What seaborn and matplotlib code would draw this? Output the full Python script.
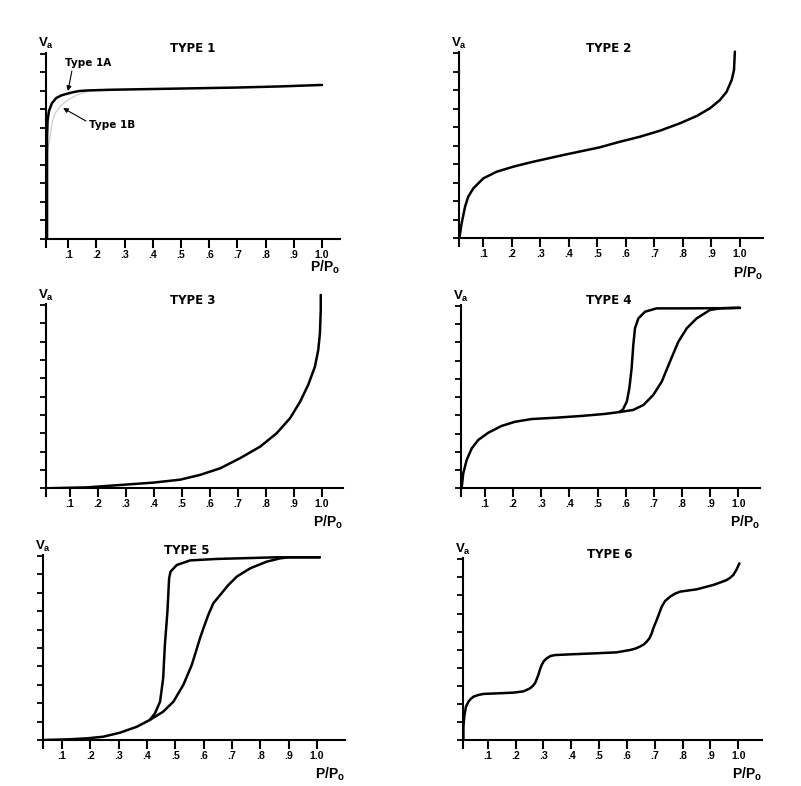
import matplotlib
matplotlib.use("Agg")
import matplotlib.pyplot as plt
import matplotlib.transforms as mtransforms
import seaborn as sns

# ---- isotherm data: relative pressure P/P0 and adsorbed volume (axis tick units) ----
TYPE1A_X = [0.025, 0.025, 0.027, 0.032, 0.042, 0.057, 0.075, 0.092, 0.115, 0.138, 0.165,
            0.25, 0.40, 0.55, 0.70, 0.85, 1.00]
TYPE1A_Y = [0.0, 5.5, 6.4, 6.9, 7.3, 7.59, 7.73, 7.81, 7.90, 7.97, 8.00,
            8.04, 8.08, 8.12, 8.16, 8.22, 8.30]
TYPE1B_X = [0.025, 0.030, 0.036, 0.043, 0.055, 0.075, 0.100, 0.130, 0.170]
TYPE1B_Y = [4.6, 5.0, 5.5, 6.3, 6.8, 7.2, 7.5, 7.75, 7.95]

TYPE2_X = [0.016, 0.024, 0.036, 0.047, 0.065, 0.100, 0.147, 0.205, 0.264, 0.380, 0.509,
           0.579, 0.649, 0.720, 0.790, 0.848, 0.895, 0.930, 0.953, 0.971, 0.979, 0.982]
TYPE2_Y = [0.0, 0.81, 1.71, 2.25, 2.70, 3.24, 3.60, 3.87, 4.10, 4.50, 4.92,
           5.22, 5.49, 5.82, 6.22, 6.61, 7.03, 7.48, 7.92, 8.56, 9.10, 10.09]

TYPE3_X = [0.017, 0.160, 0.279, 0.398, 0.494, 0.565, 0.637, 0.708, 0.780, 0.839, 0.887,
           0.923, 0.952, 0.976, 0.988, 0.994, 0.997, 0.997]
TYPE3_Y = [0.0, 0.05, 0.18, 0.31, 0.47, 0.73, 1.09, 1.64, 2.27, 3.00, 3.82,
           4.72, 5.64, 6.63, 7.54, 8.46, 9.73, 10.55]

TYPE4_ADS_X = [0.017, 0.023, 0.035, 0.053, 0.076, 0.112, 0.159, 0.207, 0.266, 0.349, 0.444,
               0.526, 0.586, 0.627, 0.663, 0.698, 0.728, 0.757, 0.787, 0.817, 0.852,
               0.899, 0.935, 1.006]
TYPE4_ADS_Y = [0.0, 0.82, 1.55, 2.19, 2.65, 3.05, 3.42, 3.65, 3.80, 3.87, 3.97,
               4.08, 4.20, 4.30, 4.57, 5.12, 5.85, 6.94, 8.04, 8.78, 9.32,
               9.78, 9.87, 9.90]
TYPE4_DES_X = [1.006, 0.935, 0.800, 0.710, 0.669, 0.645, 0.633, 0.627, 0.621, 0.613,
               0.604, 0.590, 0.578]
TYPE4_DES_Y = [9.90, 9.88, 9.87, 9.87, 9.69, 9.32, 8.78, 7.86, 6.58, 5.49,
               4.76, 4.32, 4.19]

TYPE5_ADS_X = [0.040, 0.128, 0.187, 0.246, 0.305, 0.364, 0.410, 0.457, 0.493, 0.528, 0.558,
               0.587, 0.599, 0.616, 0.634, 0.658, 0.687, 0.717, 0.764, 0.822, 0.869, 0.900,
               1.010]
TYPE5_ADS_Y = [0.0, 0.04, 0.09, 0.18, 0.40, 0.72, 1.09, 1.54, 2.08, 2.99, 4.08,
               5.53, 6.07, 6.79, 7.43, 7.88, 8.42, 8.88, 9.33, 9.69, 9.87, 9.93,
               9.93]
TYPE5_DES_X = [1.010, 0.858, 0.646, 0.552, 0.505, 0.483, 0.478, 0.472, 0.463, 0.457,
               0.446, 0.428, 0.410]
TYPE5_DES_Y = [9.93, 9.93, 9.84, 9.76, 9.51, 9.15, 8.79, 6.97, 5.16, 3.35,
               2.08, 1.45, 1.09]

TYPE6_X = [0.013, 0.013, 0.016, 0.022, 0.031, 0.039, 0.049, 0.0665, 0.085, 0.132, 0.192,
           0.228, 0.240, 0.252, 0.262, 0.270, 0.276, 0.282, 0.288, 0.294, 0.302, 0.312,
           0.326, 0.342, 0.396, 0.491, 0.563, 0.611, 0.629, 0.647, 0.661, 0.671, 0.681,
           0.689, 0.697, 0.707, 0.716, 0.725, 0.737, 0.755, 0.773, 0.791, 0.851, 0.910,
           0.934, 0.958, 0.970, 0.982, 0.994, 1.004]
TYPE6_Y = [0.0, 0.74, 1.29, 1.84, 2.12, 2.27, 2.40, 2.49, 2.55, 2.58, 2.62,
           2.69, 2.77, 2.86, 2.99, 3.14, 3.36, 3.60, 3.91, 4.15, 4.37, 4.52,
           4.65, 4.70, 4.74, 4.80, 4.85, 4.98, 5.05, 5.17, 5.29, 5.44, 5.63,
           5.90, 6.27, 6.64, 7.01, 7.38, 7.69, 7.93, 8.10, 8.21, 8.34, 8.58,
           8.71, 8.85, 8.97, 9.13, 9.44, 9.78]

TITLES = ["TYPE 1", "TYPE 2", "TYPE 3", "TYPE 4", "TYPE 5", "TYPE 6"]
X_TICKS = [0.1, 0.2, 0.3, 0.4, 0.5, 0.6, 0.7, 0.8, 0.9, 1.0]
X_TICK_LABELS = [".1", ".2", ".3", ".4", ".5", ".6", ".7", ".8", ".9", "1.0"]
Y_TICKS = list(range(11))

CURVES = {
    "TYPE 1": [(TYPE1A_X, TYPE1A_Y)],
    "TYPE 2": [(TYPE2_X, TYPE2_Y)],
    "TYPE 3": [(TYPE3_X, TYPE3_Y)],
    "TYPE 4": [(TYPE4_ADS_X, TYPE4_ADS_Y), (TYPE4_DES_X, TYPE4_DES_Y)],
    "TYPE 5": [(TYPE5_ADS_X, TYPE5_ADS_Y), (TYPE5_DES_X, TYPE5_DES_Y)],
    "TYPE 6": [(TYPE6_X, TYPE6_Y)],
}

# ---- layout (pixels): y-axis x, x-data origin, px per unit P/P0, x-axis y, px per V unit, axis end ----
W, H = 801, 786
YTOP = 11.0
PANELS = [
    dict(yaxis=46.0, zero=40.0, sx=282.0, base=238.5, sy=18.5, right=340.0, lab=29),
    dict(yaxis=459.0, zero=454.8, sx=285.2, base=238.3, sy=18.5, right=763.0, lab=35),
    dict(yaxis=46.0, zero=42.0, sx=279.6, base=488.3, sy=18.33, right=343.0, lab=34),
    dict(yaxis=461.0, zero=456.8, sx=281.5, base=488.3, sy=18.23, right=760.0, lab=34),
    dict(yaxis=43.0, zero=33.7, sx=283.3, base=740.0, sy=18.4, right=345.0, lab=34),
    dict(yaxis=463.3, zero=459.8, sx=278.5, base=740.0, sy=18.07, right=762.0, lab=34),
]

sns.set_theme(style="ticks")
plt.rcParams["font.family"] = ["Liberation Sans", "DejaVu Sans"]
plt.rcParams["font.weight"] = "bold"

fig = plt.figure(figsize=(W / 100, H / 100), dpi=100)
fig.patch.set_facecolor("white")

LINE_KW = dict(color="black", linewidth=1.8, solid_joinstyle="round", solid_capstyle="round")

for title, g in zip(TITLES, PANELS):
    ax = fig.add_axes([g["yaxis"] / W, (H - g["base"]) / H,
                       (g["right"] - g["yaxis"]) / W, YTOP * g["sy"] / H])
    ax.set_facecolor("none")
    xmin = (g["yaxis"] - g["zero"]) / g["sx"]
    xmax = (g["right"] - g["zero"]) / g["sx"]

    if title == "TYPE 1":
        sns.lineplot(x=TYPE1B_X, y=TYPE1B_Y, sort=False, estimator=None, ax=ax,
                     color="#cdcdcd", linewidth=0.9)
    for xs, ys in CURVES[title]:
        sns.lineplot(x=xs, y=ys, sort=False, estimator=None, ax=ax, **LINE_KW)

    ax.set_xlim(xmin, xmax)
    ax.set_ylim(0, YTOP)
    ax.set_xlabel("")
    ax.set_ylabel("")

    for side in ("top", "right"):
        ax.spines[side].set_visible(False)
    for side in ("left", "bottom"):
        ax.spines[side].set_linewidth(1.5)
        ax.spines[side].set_color("black")
    ax.spines["left"].set_bounds(0, 10.05)

    ax.set_xticks([xmin] + X_TICKS)
    ax.set_xticklabels([""] + X_TICK_LABELS)
    ax.set_yticks(Y_TICKS)
    ax.set_yticklabels([])
    ax.tick_params(axis="x", direction="out", length=6.5, width=1.5, pad=1.5,
                   labelsize=7.5, colors="black")
    ax.tick_params(axis="y", direction="out", length=4.5, width=1.3, colors="black")
    for lbl in ax.get_xticklabels():
        lbl.set_fontweight("bold")

    # panel title and axis names
    ax.text(0.54, 10.0 + 5.0 / g["sy"], title, ha="center", va="center",
            fontsize=8.5, fontweight="bold", family="DejaVu Sans", color="black")
    ax.text(xmin, 10.0 + 10.0 / g["sy"], r"V$_\mathregular{a}$", ha="center", va="center",
            fontsize=9.5, fontweight="bold", color="black")
    tr = mtransforms.offset_copy(ax.transAxes, fig=fig, x=0, y=-g["lab"] * 0.72, units="points")
    ax.text(1.0, 0.0, r"P/P$_\mathregular{o}$", transform=tr, ha="right", va="center",
            fontsize=10, fontweight="bold", color="black")

    if title == "TYPE 1":
        arrow = dict(arrowstyle="-|>", color="black", lw=0.8, mutation_scale=7,
                     shrinkA=0, shrinkB=0)
        ax.annotate("", xy=(0.099, 7.97), xytext=(0.113, 9.05), arrowprops=arrow)
        ax.annotate("", xy=(0.082, 7.05), xytext=(0.163, 6.35), arrowprops=arrow)
        ax.text(0.17, 9.49, "Type 1A", ha="center", va="center", fontsize=7.5,
                fontweight="bold", family="DejaVu Sans", color="black")
        ax.text(0.255, 6.14, "Type 1B", ha="center", va="center", fontsize=7.5,
                fontweight="bold", family="DejaVu Sans", color="black")

fig.savefig("out.png", dpi=100, facecolor="white")
